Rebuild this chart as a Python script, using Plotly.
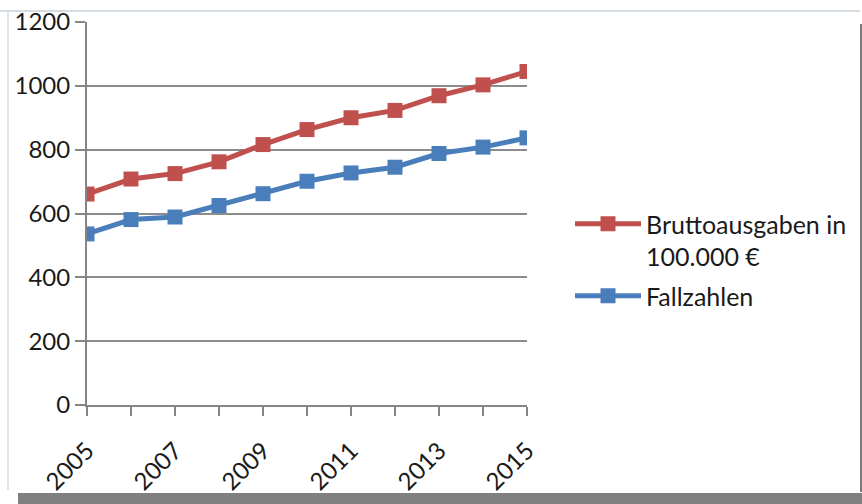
import plotly.graph_objects as go

years = list(range(2005, 2016))
brutto = [661, 708, 725, 762, 816, 863, 900, 923, 969, 1003, 1045]
fall = [536, 581, 589, 625, 662, 701, 727, 745, 788, 808, 837]
tick_labels = [str(y) if y % 2 == 1 else "" for y in years]

W, H = 862, 504
L, R, T, B = 87, 335, 22, 99
pw, ph = W - L - R, H - T - B

def px(x):
    return (x - L) / pw

def py(y):
    return (H - B - y) / ph

FONT = "Lato"
fig = go.Figure()
fig.add_trace(go.Scatter(x=years, y=brutto, name="Bruttoausgaben in<br>100.000 €",
                         mode="lines+markers", legendgroup="a",
                         line=dict(color="#C0504D", width=5),
                         marker=dict(symbol="square", size=15, color="#C0504D")))
fig.add_trace(go.Scatter(x=years, y=fall, name="Fallzahlen",
                         mode="lines+markers", legendgroup="b",
                         line=dict(color="#4A7EBB", width=5),
                         marker=dict(symbol="square", size=15, color="#4A7EBB")))

shapes = [
    dict(type="line", xref="paper", yref="paper", x0=px(0), x1=px(860), y0=py(11), y1=py(11),
         line=dict(color="#d5dde3", width=2)),
    dict(type="line", xref="paper", yref="paper", x0=px(8), x1=px(8), y0=py(11), y1=py(490),
         line=dict(color="#dfe3e6", width=2)),
    dict(type="line", xref="paper", yref="paper", x0=px(861), x1=px(861), y0=py(24), y1=py(492),
         line=dict(color="#7a7a7a", width=2)),
    dict(type="rect", xref="paper", yref="paper", x0=px(18), x1=px(862), y0=py(493), y1=py(504),
         line=dict(width=0), fillcolor="#808080"),
]

fig.update_layout(
    width=W, height=H, autosize=False,
    margin=dict(l=L, r=R, t=T, b=B, autoexpand=False),
    paper_bgcolor="white", plot_bgcolor="white",
    font=dict(family=FONT, color="#1a1a1a"),
    shapes=shapes,
    showlegend=True,
    legend=dict(xref="container", yref="container", x=570 / W, y=1 - 201 / H,
                xanchor="left", yanchor="top", valign="top",
                font=dict(family=FONT, size=25, color="#1a1a1a"),
                bgcolor="rgba(0,0,0,0)", tracegroupgap=4, itemwidth=66),
    xaxis=dict(range=[2005, 2015], tickmode="array", tickvals=years, ticktext=tick_labels,
               tickangle=-45, ticks="outside", ticklen=9, tickwidth=2, tickcolor="#868686",
               ticklabelstandoff=11, automargin=False,
               showline=True, linecolor="#868686", linewidth=2, showgrid=False, zeroline=False,
               tickfont=dict(family=FONT, size=24, color="#1a1a1a")),
    yaxis=dict(range=[0, 1200], tickmode="array", tickvals=list(range(0, 1201, 200)),
               ticks="outside", ticklen=10, tickwidth=2, tickcolor="#868686", automargin=False,
               showline=True, linecolor="#868686", linewidth=2,
               showgrid=True, gridcolor="#8c8c8c", gridwidth=1.5, zeroline=False,
               tickfont=dict(family=FONT, size=24, color="#1a1a1a")),
)

fig.write_html("out.html")
